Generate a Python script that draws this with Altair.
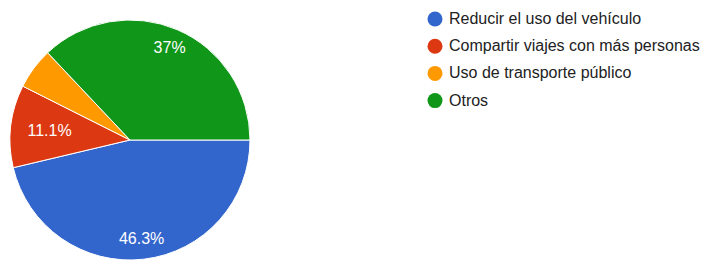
import altair as alt
import pandas as pd

categories = ["Reducir el uso del vehículo", "Compartir viajes con más personas",
              "Uso de transporte público", "Otros"]
counts = [25, 6, 3, 20]
colors = ["#3366CC", "#DC3912", "#FF9900", "#109618"]

df = pd.DataFrame({"cat": categories, "n": counts, "idx": list(range(len(categories)))})

theta_scale = alt.Scale(range=[1.5707963, 1.5707963 + 6.2831853])
color_scale = alt.Scale(domain=categories, range=colors)

base = alt.Chart(df)

arc = base.mark_arc(outerRadius=120, stroke="white", strokeWidth=1).encode(
    theta=alt.Theta("n:Q", stack=True, scale=theta_scale),
    color=alt.Color("cat:N", scale=color_scale, sort=categories,
                    legend=alt.Legend(title=None, orient="none", legendX=419, legendY=3,
                                      symbolType="circle", symbolSize=225, symbolStrokeWidth=0,
                                      labelFont="Liberation Sans", labelFontSize=16,
                                      labelColor="#222222", rowPadding=11.2, padding=0,
                                      labelOffset=6, labelLimit=400)),
    order=alt.Order("idx:Q"),
    x=alt.value(122), y=alt.value(132),
)

text = base.transform_joinaggregate(total="sum(n)").transform_window(
    cum="sum(n)", sort=[alt.SortField("idx")], frame=[None, 0]
).transform_calculate(
    mid="datum.cum - datum.n / 2",
    label="datum.n / datum.total >= 0.08 ? format(datum.n / datum.total, '.3~p') : ''",
    lr=f"datum.cat == '{categories[1]}' ? 81 : 100",
).mark_text(font="Liberation Sans", fontSize=16, color="white").encode(
    theta=alt.Theta("mid:Q", stack=None, scale=theta_scale),
    radius=alt.Radius("lr:Q", scale=None),
    text="label:N",
    x=alt.value(122), y=alt.value(132),
)

chart = alt.layer(arc, text).properties(
    width=700, height=254, padding=0, autosize="none", background="white"
).configure_view(strokeWidth=0, stroke="transparent")

chart.save("out.html", embed_options={"renderer": "svg", "actions": False})
